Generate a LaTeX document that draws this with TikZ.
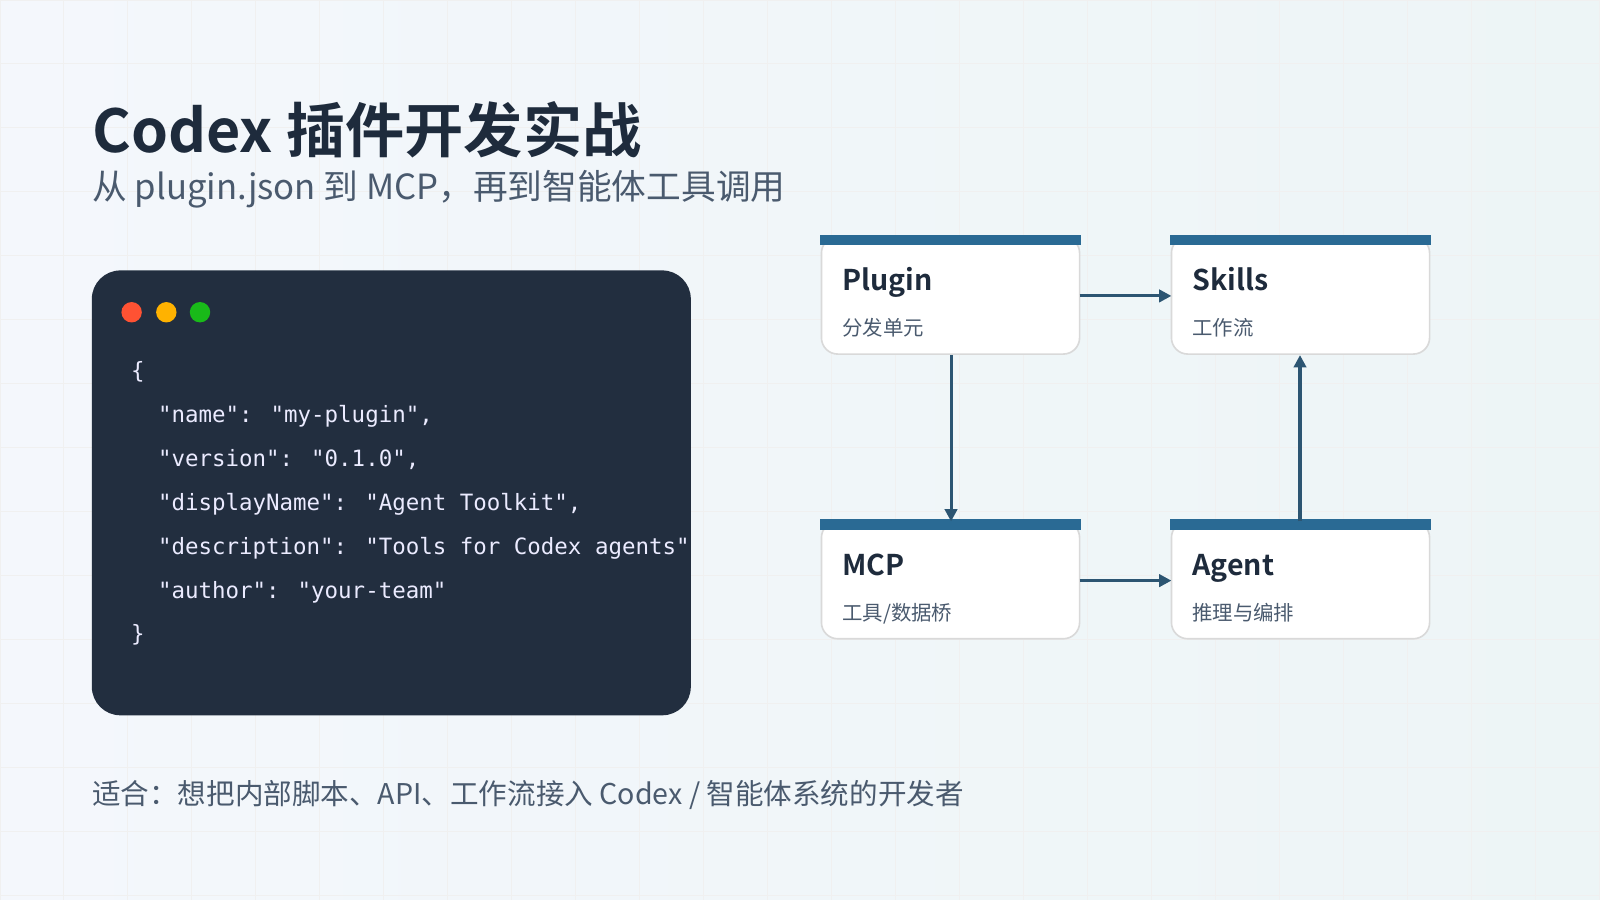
\documentclass[tikz,border=0pt]{standalone}
\usepackage{fontspec}
\setmainfont{Noto Sans CJK SC}
\newfontfamily\cjkb{Noto Sans CJK SC Bold}
\newfontfamily\monof{DejaVu Sans Mono}
\usetikzlibrary{arrows.meta}
\definecolor{ink}{HTML}{1E2B3C}
\definecolor{sub}{HTML}{4A5A6E}
\definecolor{bar}{HTML}{2A6A94}
\definecolor{codebg}{HTML}{222E3F}
\definecolor{arr}{HTML}{2C5572}
\definecolor{bgl}{HTML}{F4F7FC}
\definecolor{bgr}{HTML}{EDF5F6}
\begin{document}
\begin{tikzpicture}[x=0.5pt,y=-0.5pt,
  card/.style={draw=black!15,line width=0.8pt,fill=white,rounded corners=8pt},
  conn/.style={draw=arr,line width=1.5pt,-{Triangle[length=6pt,width=6pt]}}]
\useasboundingbox (0,0) rectangle (1568,882);
\shade[left color=bgl, right color=bgr] (0,0) rectangle (1568,882);
\foreach \i in {0,...,25} \draw[black!6,line width=0.5pt] (\i*62.7,0) -- (\i*62.7,882);
\foreach \j in {0,...,14} \draw[black!6,line width=0.5pt] (0,\j*62.7) -- (1568,\j*62.7);
\node[anchor=west,text=ink,font=\cjkb\fontsize{29}{34}\selectfont,inner sep=0] (title) at (90,127) {Codex 插件开发实战};
\node[anchor=west,text=sub,font=\fontsize{17}{20}\selectfont,inner sep=0] (subt) at (90,185) {从 plugin.json 到 MCP，再到智能体工具调用};
% code window
\fill[codebg,rounded corners=14pt] (90,265) rectangle (677,701);
\fill[red!70!orange!80] (129,306) circle (10);
\fill[orange!60!yellow] (163,306) circle (10);
\fill[green!70!black!90] (196,306) circle (10);
\begin{scope}
\clip (90,265) rectangle (677,701);
\node[anchor=north west,text=white!92!blue,font=\monof\fontsize{11}{21.5}\selectfont,align=left,inner sep=0] (code) at (128,354) {\{\\
\ \ "name": "my-plugin",\\
\ \ "version": "0.1.0",\\
\ \ "displayName": "Agent Toolkit",\\
\ \ "description": "Tools for Codex agents",\\
\ \ "author": "your-team"\\
\}};
\end{scope}
% cards
\foreach \n/\x/\y/\t/\s in {plug/805/232/Plugin/{分发单元}, skil/1148/232/Skills/{工作流}, mcp/805/511/MCP/{工具/数据桥}, agen/1148/511/Agent/{推理与编排}}{
  \draw[card] (\x,\y) rectangle ++(253,115);
  \fill[bar] (\x-1,\y-2) rectangle ++(255,10);
  \node[anchor=base west,text=ink,font=\cjkb\fontsize{14}{16}\selectfont,inner sep=0] at (\x+20,\y+53) {\t};
  \node[anchor=base west,text=sub,font=\fontsize{10}{12}\selectfont,inner sep=0] at (\x+20,\y+97) {\s};
  \coordinate (\n) at (\x+126.5,\y+57.5);
}
\coordinate (pR) at (1058,290); \coordinate (sL) at (1148,290);
\coordinate (pB) at (932,348); \coordinate (mT) at (932,511);
\coordinate (mR) at (1058,569); \coordinate (aL) at (1148,569);
\coordinate (aT) at (1274,511); \coordinate (sB) at (1274,348);
\draw[conn] (pR) -- (sL);
\draw[conn] (pB) -- (mT);
\draw[conn] (mR) -- (aL);
\draw[conn] (aT) -- (sB);
\node[anchor=west,text=sub,font=\fontsize{14}{16}\selectfont,inner sep=0] (foot) at (90,779) {适合：想把内部脚本、API、工作流接入 Codex / 智能体系统的开发者};
\end{tikzpicture}
\end{document}
